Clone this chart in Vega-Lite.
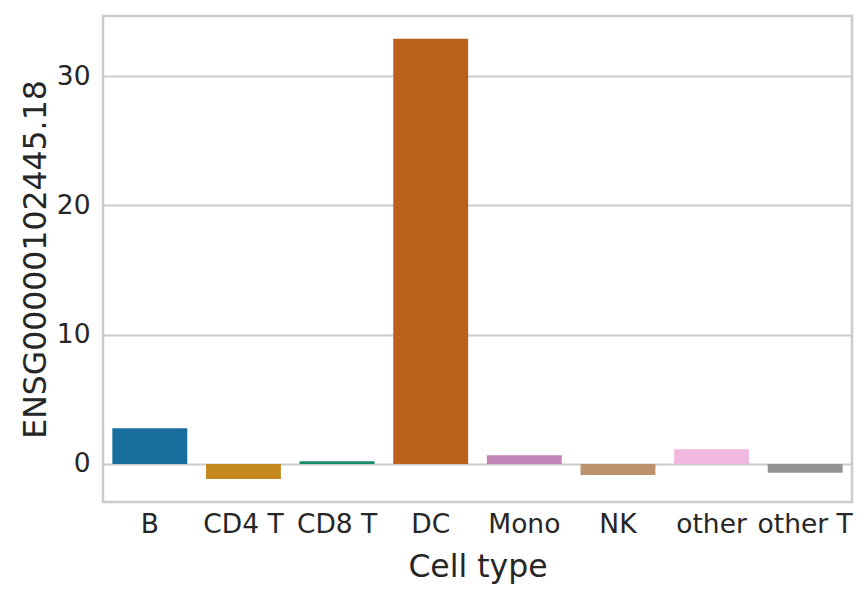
{
  "$schema": "https://vega.github.io/schema/vega-lite/v6.json",
  "width": 749,
  "height": 486,
  "autosize": "none",
  "padding": {"left": 103, "top": 16, "right": 16, "bottom": 95},
  "background": "white",
  "config": {
    "font": "DejaVu Sans",
    "view": {"stroke": "#cccccc", "strokeWidth": 2.5},
    "axis": {
      "labelFont": "DejaVu Sans",
      "titleFont": "DejaVu Sans",
      "labelColor": "#262626",
      "titleColor": "#262626",
      "titleFontWeight": "normal",
      "ticks": false,
      "tickSize": 0,
      "domain": false,
      "gridColor": "#cccccc",
      "gridWidth": 2
    }
  },
  "data": {
    "values": [
      {"cell_type": "B", "value": 2.77},
      {"cell_type": "CD4 T", "value": -1.16},
      {"cell_type": "CD8 T", "value": 0.21},
      {"cell_type": "DC", "value": 32.9},
      {"cell_type": "Mono", "value": 0.67},
      {"cell_type": "NK", "value": -0.85},
      {"cell_type": "other", "value": 1.14},
      {"cell_type": "other T", "value": -0.67}
    ]
  },
  "mark": {"type": "bar", "strokeWidth": 1},
  "encoding": {
    "x": {
      "field": "cell_type",
      "type": "nominal",
      "sort": null,
      "title": "Cell type",
      "scale": {"paddingInner": 0.2, "paddingOuter": 0.1},
      "axis": {
        "labelAngle": 0,
        "labelFontSize": 26.5,
        "titleFontSize": 31.5,
        "labelBaseline": "alphabetic",
        "labelPadding": 30,
        "titleBaseline": "alphabetic",
        "titleY": 74,
        "grid": false
      }
    },
    "y": {
      "field": "value",
      "type": "quantitative",
      "title": "ENSG00000102445.18",
      "scale": {"domain": [-2.94, 34.65], "nice": false, "zero": false},
      "axis": {
        "values": [0, 10, 20, 30],
        "labelFontSize": 26.5,
        "titleFontSize": 31.5,
        "labelPadding": 13,
        "titleBaseline": "alphabetic",
        "titleAngle": -90,
        "titleX": -58,
        "grid": true
      }
    },
    "color": {
      "field": "cell_type",
      "type": "nominal",
      "sort": null,
      "legend": null,
      "scale": {
        "domain": ["B", "CD4 T", "CD8 T", "DC", "Mono", "NK", "other", "other T"],
        "range": ["#176d9c", "#c38820", "#168b6a", "#ba611b", "#c283b6", "#bd926e", "#f2b9e0", "#949494"]
      }
    }
  }
}
